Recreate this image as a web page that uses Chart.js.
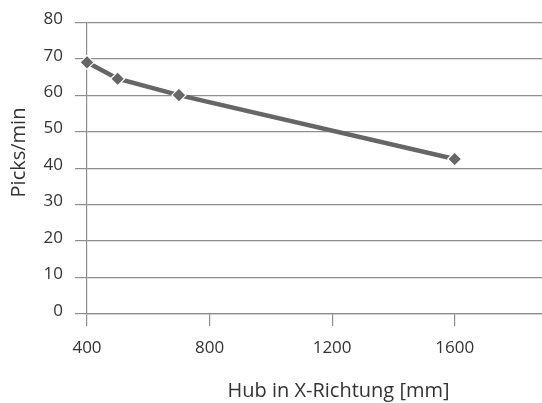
<!DOCTYPE html>
<html>
<head>
<meta charset="utf-8">
<script src="https://cdn.jsdelivr.net/npm/chart.js@4/dist/chart.umd.min.js"></script>
<style>
html,body{margin:0;padding:0;background:#fff;}
#wrap{position:relative;width:542px;height:403px;}
</style>
</head>
<body>
<div id="wrap"><canvas id="c" width="542" height="403"></canvas></div>
<script>
const strokeX = [400, 500, 700, 1600];
const picksPerMin = [69, 64.5, 60, 42.5];
const xTicks = [400, 800, 1200, 1600];
const yTicks = [0, 10, 20, 30, 40, 50, 60, 70, 80];
const xTitle = 'Hub in X-Richtung [mm]';
const yTitle = 'Picks/min';

const FONT = '"Open Sans", "Noto Sans", sans-serif';
const TEXT = '#333333';
const GRID = '#8e8e8e';

const titlePlugin = {
  id: 'titles',
  afterDraw(chart) {
    const ctx = chart.ctx;
    ctx.save();
    ctx.fillStyle = TEXT;
    ctx.font = '20px ' + FONT;
    ctx.textAlign = 'center';
    ctx.textBaseline = 'alphabetic';
    ctx.fillText(xTitle, 338.5, 396.5);
    ctx.translate(25, 152.5);
    ctx.rotate(-Math.PI / 2);
    ctx.fillText(yTitle, 0, 0);
    ctx.restore();
  }
};

new Chart(document.getElementById('c'), {
  type: 'line',
  data: {
    datasets: [{
      data: strokeX.map((x, i) => ({x: x, y: picksPerMin[i]})),
      borderColor: '#666666',
      borderWidth: 4.5,
      backgroundColor: '#666666',
      pointStyle: 'rectRot',
      pointRadius: 7,
      pointBackgroundColor: '#666666',
      pointBorderColor: '#ffffff',
      pointBorderWidth: 1.2,
      tension: 0,
      fill: false,
      clip: false
    }]
  },
  options: {
    responsive: false,
    animation: false,
    devicePixelRatio: 1,
    layout: {autoPadding: false, padding: {top: 20, left: 0, right: 0, bottom: 0}},
    plugins: {legend: {display: false}, tooltip: {enabled: false}},
    scales: {
      x: {
        type: 'linear',
        min: 400,
        max: 1885,
        afterBuildTicks(scale) { scale.ticks = xTicks.map(v => ({value: v})); },
        afterFit(scale) { scale.height = 89; },
        grid: {drawOnChartArea: false, drawTicks: true, tickLength: 12, color: GRID, lineWidth: 1.2},
        border: {display: true, color: GRID, width: 1.2},
        ticks: {color: TEXT, font: {family: FONT, size: 17}, padding: 12, maxRotation: 0, autoSkip: false,
                callback: v => String(v)}
      },
      y: {
        min: 0,
        max: 80,
        afterBuildTicks(scale) { scale.ticks = yTicks.map(v => ({value: v})); },
        afterFit(scale) { scale.width = 87; },
        grid: {drawTicks: true, tickLength: 12, color: GRID, lineWidth: 1.2},
        border: {display: true, color: GRID, width: 1.2},
        ticks: {color: TEXT, font: {family: FONT, size: 17}, padding: 12, labelOffset: -3,
                callback: v => String(v)}
      }
    }
  },
  plugins: [titlePlugin]
});
</script>
</body>
</html>
